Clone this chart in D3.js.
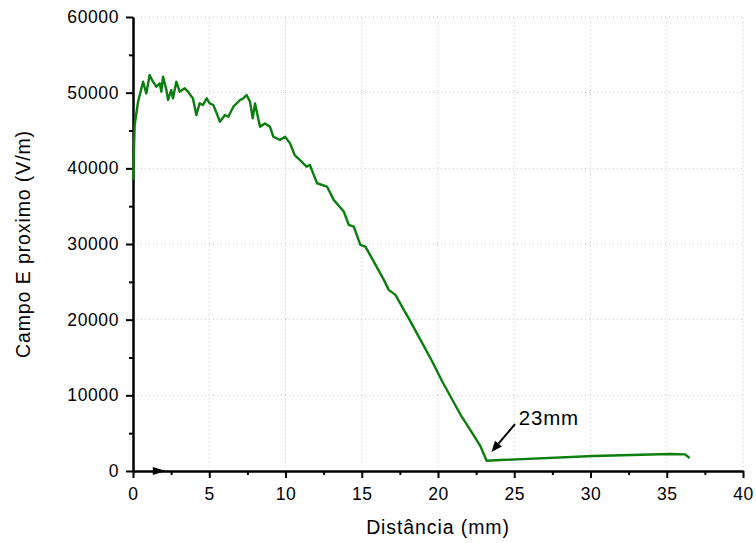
<!DOCTYPE html>
<meta charset='utf-8'>
<style>
body { margin: 0; background: #fff; }
svg { font-family: 'Liberation Sans', Arial, sans-serif; }
.grid line {
  stroke: #c4c4c4;
  stroke-width: 1;
  stroke-dasharray: 1,3;
}
.axis path, .axis line {
  stroke: #000;
  stroke-width: 2;
}
.axis text {
  font-size: 17.5px;
  letter-spacing: 0.6px;
  fill: #000;
}
.title {
  font-size: 19.5px;
  letter-spacing: 0.9px;
}
</style>
<svg width='756' height='543'></svg>
<script src='https://cdnjs.cloudflare.com/ajax/libs/d3/7.8.5/d3.min.js'></script>
<script>

// distance along the probe (mm)
var distance = [0, 0.05, 0.11, 0.33, 0.66, 0.87, 1.09, 1.31, 1.53, 1.75, 1.86, 1.97, 2.19, 2.3, 2.51, 2.62,
  2.84, 3.06, 3.39, 3.61, 3.93, 4.15, 4.37, 4.59, 4.83, 5.03, 5.27, 5.49, 5.7, 6.03, 6.25, 6.58, 7.02,
  7.23, 7.45, 7.67, 7.85, 8.0, 8.33, 8.65, 8.98, 9.2, 9.64, 9.97, 10.3, 10.6, 10.95, 11.38, 11.6, 11.85,
  12.07, 12.72, 13.16, 13.82, 14.15, 14.47, 14.91, 15.24, 15.79, 16.45, 16.77, 17.21, 17.76, 18.2, 18.85,
  19.62, 20.28, 20.82, 21.48, 22.25, 22.79, 23.19, 24.1, 25.16, 30.18, 35.2, 36.2, 36.5];

// near E field (V/m)
var field = [38500, 41500, 45720, 48800, 51450, 49900, 52330, 51450, 50790, 51230, 50130, 52110, 50350, 49030,
  50350, 49250, 51450, 50130, 50570, 50130, 49250, 47040, 48590, 48370, 49250, 48590, 48370, 47260, 46160,
  47040, 46820, 48150, 49030, 49250, 49690, 48810, 46600, 48590, 45500, 45940, 45500, 44180, 43740, 44180,
  43300, 41760, 41100, 40220, 40440, 39130, 38030, 37590, 35830, 34290, 32530, 32310, 29880, 29660, 27680,
  25260, 23940, 23280, 21300, 19750, 17330, 14470, 11830, 9850, 7430, 5010, 3250, 1360, 1450, 1540, 1980,
  2250, 2200, 1720];

var xTicks = [0, 5, 10, 15, 20, 25, 30, 35, 40],
    xMinor = [2.5, 7.5, 12.5, 17.5, 22.5, 27.5, 32.5, 37.5],
    yTicks = [0, 10000, 20000, 30000, 40000, 50000, 60000],
    yMinor = [5000, 15000, 25000, 35000, 45000, 55000];

var svg = d3.select('svg');

var x = d3.scaleLinear().domain([0, 40]).range([133, 743]),
    y = d3.scaleLinear().domain([0, 60000]).range([471, 17]);

// dotted grid at the major ticks
svg.append('g').attr('class', 'grid')
  .selectAll('line').data(xTicks.slice(1)).join('line')
  .attr('x1', d => x(d)).attr('x2', d => x(d))
  .attr('y1', y(0)).attr('y2', y(60000));
svg.append('g').attr('class', 'grid')
  .selectAll('line').data(yTicks.slice(1)).join('line')
  .attr('y1', d => y(d)).attr('y2', d => y(d))
  .attr('x1', x(0)).attr('x2', x(40));

// minor ticks first, then the major axes on top
svg.append('g').attr('class', 'axis')
  .attr('transform', `translate(0,${y(0)})`)
  .call(d3.axisBottom(x).tickValues(xMinor).tickSize(4).tickSizeOuter(0).tickFormat(''));
svg.append('g').attr('class', 'axis')
  .attr('transform', `translate(${x(0)},0)`)
  .call(d3.axisLeft(y).tickValues(yMinor).tickSize(4).tickSizeOuter(0).tickFormat(''));

svg.append('g').attr('class', 'axis')
  .attr('transform', `translate(0,${y(0)})`)
  .call(d3.axisBottom(x).tickValues(xTicks).tickSize(7).tickSizeOuter(0).tickPadding(10).tickFormat(d3.format('d')));
svg.append('g').attr('class', 'axis')
  .attr('transform', `translate(${x(0)},0)`)
  .call(d3.axisLeft(y).tickValues(yTicks).tickSize(7).tickSizeOuter(0).tickPadding(7).tickFormat(d3.format('d')));

// little arrow marker sitting on the x axis
svg.append('path')
  .attr('d', `M${x(1.3)},${y(0) - 4}L${x(2.15)},${y(0)}L${x(1.3)},${y(0) + 4}Z`)
  .attr('fill', '#000');

// the curve
var line = d3.line()
  .x((d, i) => x(distance[i]))
  .y(d => y(d));

svg.append('path')
  .datum(field)
  .attr('fill', 'none')
  .attr('stroke', '#0a7e0e')
  .attr('stroke-width', 2.4)
  .attr('stroke-linejoin', 'round')
  .attr('d', line);

// 23mm annotation with arrow
var tip = [x(23.5), y(2500)], tail = [x(25.05), y(6200)];
var ang = Math.atan2(tip[1] - tail[1], tip[0] - tail[0]);
var hl = 11, hw = 4.5;
var base = [tip[0] - hl * Math.cos(ang), tip[1] - hl * Math.sin(ang)];
svg.append('line')
  .attr('x1', tail[0]).attr('y1', tail[1])
  .attr('x2', base[0]).attr('y2', base[1])
  .attr('stroke', '#000').attr('stroke-width', 2);
svg.append('path')
  .attr('d', `M${tip[0]},${tip[1]}` +
    `L${base[0] + hw * Math.sin(ang)},${base[1] - hw * Math.cos(ang)}` +
    `L${base[0] - hw * Math.sin(ang)},${base[1] + hw * Math.cos(ang)}Z`)
  .attr('fill', '#000');
svg.append('text')
  .attr('x', x(25.3)).attr('y', y(6100))
  .style('font-size', '20.5px')
  .style('letter-spacing', '0.8px')
  .text('23mm');

// axis titles
svg.append('text').attr('class', 'title')
  .attr('text-anchor', 'middle')
  .attr('x', x(20)).attr('y', 534)
  .text('Distância (mm)');
svg.append('text').attr('class', 'title')
  .attr('text-anchor', 'middle')
  .attr('transform', `translate(30,${y(30000)}) rotate(-90)`)
  .text('Campo E proximo (V/m)');
</script>
